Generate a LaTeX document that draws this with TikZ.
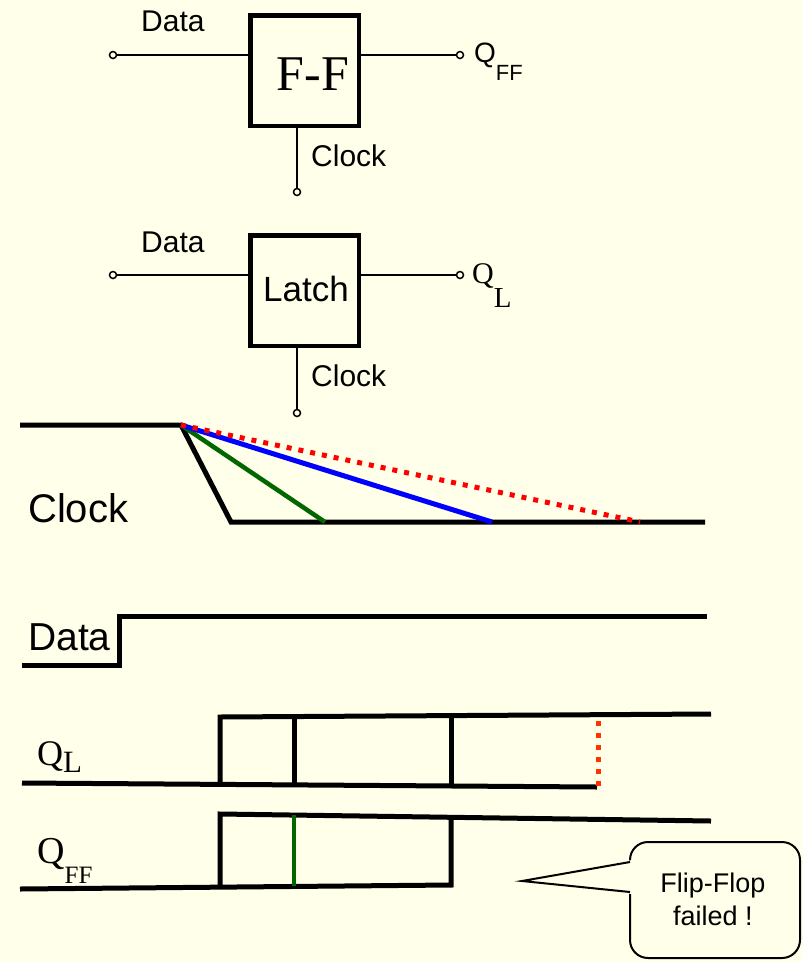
\documentclass[tikz,border=0pt]{standalone}
\usepackage{fontspec}
\setmainfont{Liberation Sans}
\newfontfamily\seriff{Liberation Serif}
\definecolor{bg}{RGB}{255,255,234}
\definecolor{dgreen}{RGB}{0,102,0}
\definecolor{dred}{RGB}{255,51,0}
\tikzset{
  blockbox/.style={draw, line width=4.5pt, minimum width=108.5pt, minimum height=110.5pt, inner sep=0pt},
  pin/.style={circle, draw, line width=1.5pt, fill=bg, inner sep=0pt, minimum size=7pt},
  wire/.style={line width=2pt},
  wave/.style={line width=5pt, line join=miter},
  txt/.style={inner sep=0pt, anchor=base west},
  redots/.style={line width=5pt, dash pattern=on 5pt off 7pt},
}
\begin{document}
\begin{tikzpicture}[x=1pt, y=-1pt]
\path[fill=bg] (0,0) rectangle (803,962);
\useasboundingbox (0,0) rectangle (803,962);

% ---------- Flip-flop block ----------
\node[blockbox] (ff) at (304.5,70.5) {};
\node[inner sep=0pt, anchor=base, font=\seriff\fontsize{50}{60}\selectfont] (fftxt) at (313,90) {F-F};
\node[pin] (ffd) at (113,55) {};
\node[pin] (ffq) at (460,55) {};
\node[pin] (ffc) at (297,192) {};
\draw[wire] (ffd) -- (ff.west |- ffd);
\draw[wire] (ff.east |- ffq) -- (ffq);
\draw[wire] (ff.south -| ffc) -- (ffc);
\node[txt, font=\fontsize{30}{36}\selectfont] (ffdl) at (141,31) {Data};
\node[txt, font=\fontsize{30}{36}\selectfont] (ffcl) at (311,166) {Clock};
\node[txt] (ffql) at (474,62) {\fontsize{28}{34}\selectfont Q\fontsize{22}{26}\selectfont\raisebox{-18pt}{FF}};

% ---------- Latch block ----------
\node[blockbox] (la) at (304.5,290.5) {};
\node[inner sep=0pt, anchor=base, font=\fontsize{35}{42}\selectfont] (latxt) at (306,301) {Latch};
\node[pin] (lad) at (113,275) {};
\node[pin] (laq) at (460,275) {};
\node[pin] (lac) at (297,413) {};
\draw[wire] (lad) -- (la.west |- lad);
\draw[wire] (la.east |- laq) -- (laq);
\draw[wire] (la.south -| lac) -- (lac);
\node[txt, font=\fontsize{30}{36}\selectfont] (ladl) at (141,252) {Data};
\node[txt, font=\fontsize{30}{36}\selectfont] (lacl) at (311,386) {Clock};
\node[txt] (laql) at (472,283) {\seriff\fontsize{30}{36}\selectfont Q\fontsize{29}{34}\selectfont\raisebox{-24pt}{L}};

% ---------- Clock waveform ----------
\node[txt, font=\fontsize{40}{48}\selectfont] (clkl) at (28,522) {Clock};
\coordinate (c0) at (20,425);
\coordinate (c1) at (181,425);
\coordinate (c2) at (231,522);
\coordinate (c3) at (705,522);
\coordinate (cg) at (325,522);
\coordinate (cb) at (492,522);
\coordinate (cr) at (640,522);
\draw[wave] (c0) -- (c1) -- (c2) -- (c3);
\draw[line width=4.5pt, dgreen] (c1) -- (cg);
\draw[line width=5pt, blue] (c1) -- (cb);
\draw[redots, red] (c1) -- (cr);

% ---------- Data waveform ----------
\node[txt, font=\fontsize{39}{47}\selectfont] (datl) at (28,650) {Data};
\coordinate (d0) at (22,665);
\coordinate (d1) at (119,665);
\coordinate (d2) at (119,616);
\coordinate (d3) at (707,616);
\draw[wave] (d0) -- (d1) -- (d2) -- (d3);

% ---------- Q_L waveform ----------
\node[txt] (qll) at (37,765) {\seriff\fontsize{36}{43}\selectfont Q\fontsize{31}{36}\selectfont\raisebox{-7pt}{L}};
\coordinate (l0) at (22,783);
\coordinate (l1) at (597,787);
\coordinate (lb1) at (220,784.5);
\coordinate (lt1) at (220,717);
\coordinate (lt4) at (711,714);
\coordinate (lb2) at (294,785);
\coordinate (lt2) at (294,716.5);
\coordinate (lb3) at (451,786);
\coordinate (lt3) at (451,715.6);
\coordinate (lr0) at (598,786);
\coordinate (lr1) at (598,718);
\draw[wave] (l0) -- (l1);
\draw[wave] (lb1) -- (lt1) -- (lt4);
\draw[wave] (lb2) -- (lt2);
\draw[wave] (lb3) -- (lt3);
\draw[redots, dred] (lr0) -- (lr1);

% ---------- Q_FF waveform ----------
\node[txt] (qffl) at (37,863) {\seriff\fontsize{38}{46}\selectfont Q\fontsize{25}{30}\selectfont\raisebox{-20pt}{FF}};
\coordinate (f0) at (20,889);
\coordinate (f1) at (451,885);
\coordinate (f2) at (451,817);
\coordinate (fb1) at (220,887);
\coordinate (ft1) at (220,814);
\coordinate (ft4) at (711,821);
\coordinate (fgb) at (294,886);
\coordinate (fgt) at (294,815);
\draw[wave] (f0) -- (f1) -- (f2);
\draw[wave] (fb1) -- (ft1) -- (ft4);
\draw[line width=4.5pt, dgreen] (fgb) -- (fgt);

% ---------- Callout ----------
\draw[line width=2pt, fill=bg, rounded corners=18pt] (630,842) rectangle (800,958);
\coordinate (tip) at (522,881);
\coordinate (ta) at (630,862);
\coordinate (tb) at (630,892);
\fill[bg] (632,860) -- (tip) -- (632,894) -- cycle;
\draw[line width=2pt, line join=miter] (ta) -- (tip) -- (tb);
\node[inner sep=0pt, align=center, anchor=base, font=\fontsize{27}{33}\selectfont] (call) at (713,925)
  {Flip-Flop\\failed !};
\end{tikzpicture}
\end{document}
